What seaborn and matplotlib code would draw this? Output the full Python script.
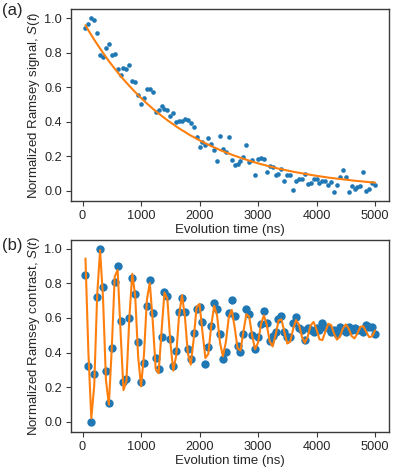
import numpy as np
import pandas as pd
import matplotlib
matplotlib.use("Agg")
import matplotlib.pyplot as plt
import seaborn as sns

# ---------------- data ----------------
time_ns = list(range(50, 5001, 50))

signal_a = [
    0.946, 0.965, 1.000, 0.990, 0.913, 0.790, 0.776, 0.830, 0.850, 0.790,
    0.795, 0.705, 0.670, 0.714, 0.705, 0.728, 0.637, 0.631, 0.558, 0.505,
    0.540, 0.592, 0.588, 0.573, 0.457, 0.467, 0.492, 0.473, 0.471, 0.434,
    0.449, 0.401, 0.405, 0.405, 0.415, 0.411, 0.390, 0.370, 0.310, 0.251,
    0.285, 0.264, 0.308, 0.271, 0.237, 0.174, 0.318, 0.239, 0.222, 0.310,
    0.180, 0.150, 0.156, 0.174, 0.193, 0.265, 0.168, 0.180, 0.093, 0.185,
    0.187, 0.183, 0.106, 0.143, 0.135, 0.089, 0.099, 0.128, 0.054, 0.091,
    0.089, 0.004, 0.058, 0.070, 0.070, 0.097, 0.039, 0.045, 0.070, 0.070,
    0.045, 0.058, 0.058, 0.031, 0.049, -0.008, 0.033, 0.081, 0.118, 0.081,
    -0.010, 0.025, 0.012, 0.019, 0.025, 0.106, -0.004, 0.010, 0.045, 0.035,
]

fit_a = [
    0.960, 0.931, 0.903, 0.876, 0.850, 0.825, 0.800, 0.776, 0.752, 0.730,
    0.708, 0.687, 0.666, 0.646, 0.627, 0.608, 0.590, 0.572, 0.555, 0.538,
    0.522, 0.506, 0.491, 0.476, 0.462, 0.448, 0.435, 0.422, 0.409, 0.397,
    0.385, 0.373, 0.362, 0.351, 0.341, 0.330, 0.320, 0.311, 0.301, 0.292,
    0.284, 0.275, 0.267, 0.259, 0.251, 0.244, 0.236, 0.229, 0.222, 0.216,
    0.209, 0.203, 0.197, 0.191, 0.185, 0.180, 0.174, 0.169, 0.164, 0.159,
    0.154, 0.150, 0.145, 0.141, 0.137, 0.132, 0.128, 0.125, 0.121, 0.117,
    0.114, 0.110, 0.107, 0.104, 0.101, 0.098, 0.095, 0.092, 0.089, 0.086,
    0.084, 0.081, 0.079, 0.076, 0.074, 0.072, 0.070, 0.068, 0.066, 0.064,
    0.062, 0.060, 0.058, 0.056, 0.055, 0.053, 0.051, 0.050, 0.048, 0.047,
]

contrast_b = [
    0.849, 0.321, 0.000, 0.273, 0.723, 1.000, 0.780, 0.291, 0.105, 0.428,
    0.807, 0.900, 0.581, 0.230, 0.245, 0.598, 0.834, 0.738, 0.461, 0.232,
    0.338, 0.669, 0.818, 0.630, 0.371, 0.302, 0.490, 0.748, 0.728, 0.478,
    0.321, 0.411, 0.633, 0.715, 0.635, 0.423, 0.360, 0.514, 0.652, 0.665,
    0.576, 0.335, 0.430, 0.556, 0.686, 0.652, 0.510, 0.360, 0.405, 0.627,
    0.707, 0.610, 0.436, 0.403, 0.509, 0.654, 0.622, 0.503, 0.423, 0.490,
    0.568, 0.640, 0.572, 0.464, 0.497, 0.516, 0.596, 0.610, 0.516, 0.490,
    0.490, 0.573, 0.604, 0.540, 0.530, 0.470, 0.540, 0.530, 0.520, 0.540,
    0.530, 0.570, 0.550, 0.540, 0.520, 0.530, 0.510, 0.550, 0.530, 0.520,
    0.550, 0.530, 0.540, 0.530, 0.530, 0.520, 0.560, 0.550, 0.550, 0.510,
]

fit_b = [
    0.945, 0.402, 0.019, 0.209, 0.731, 0.992, 0.719, 0.242, 0.098, 0.426,
    0.840, 0.878, 0.520, 0.182, 0.235, 0.599, 0.856, 0.729, 0.379, 0.204,
    0.387, 0.706, 0.803, 0.583, 0.306, 0.280, 0.520, 0.747, 0.711, 0.467,
    0.295, 0.380, 0.615, 0.732, 0.609, 0.395, 0.330, 0.478, 0.664, 0.681,
    0.520, 0.368, 0.392, 0.555, 0.671, 0.614, 0.457, 0.378, 0.460, 0.604,
    0.647, 0.548, 0.424, 0.412, 0.520, 0.622, 0.606, 0.496, 0.419, 0.457,
    0.563, 0.615, 0.560, 0.464, 0.435, 0.501, 0.585, 0.592, 0.520, 0.452,
    0.462, 0.536, 0.588, 0.562, 0.491, 0.456, 0.493, 0.558, 0.577, 0.533,
    0.477, 0.472, 0.520, 0.566, 0.559, 0.509, 0.475, 0.492, 0.539, 0.563,
    0.538, 0.495, 0.482, 0.512, 0.549, 0.552, 0.520, 0.489, 0.494, 0.527,
]

panel_labels = ["(a)", "(b)"]
ylabels = ["Normalized Ramsey signal, $S(t)$", "Normalized Ramsey contrast, $S(t)$"]
xlabel = "Evolution time (ns)"
xticks = [0, 1000, 2000, 3000, 4000, 5000]
yticks = [0.0, 0.2, 0.4, 0.6, 0.8, 1.0]

# ---------------- style ----------------
sns.set_style("ticks")
plt.rcParams["font.family"] = ["Liberation Sans", "DejaVu Sans"]
plt.rcParams["mathtext.fontset"] = "custom"
plt.rcParams["mathtext.rm"] = "Liberation Sans"
plt.rcParams["mathtext.it"] = "Liberation Sans:italic"
plt.rcParams["axes.edgecolor"] = "#3a3a3a"
plt.rcParams["axes.linewidth"] = 1.0
plt.rcParams["xtick.color"] = "#3a3a3a"
plt.rcParams["ytick.color"] = "#3a3a3a"
plt.rcParams["xtick.labelcolor"] = "#262626"
plt.rcParams["ytick.labelcolor"] = "#262626"
plt.rcParams["xtick.major.size"] = 3.5
plt.rcParams["ytick.major.size"] = 3.5

blue = "#1f77b4"
orange = "#ff7f0e"

df_a = pd.DataFrame({"t": time_ns, "S": signal_a, "fit": fit_a})
df_b = pd.DataFrame({"t": time_ns, "S": contrast_b, "fit": fit_b})

fig = plt.figure(figsize=(3.97, 4.74), dpi=100)
ax_a = fig.add_axes([0.1788, 0.5759, 0.8023, 0.405])
ax_b = fig.add_axes([0.1788, 0.0886, 0.8023, 0.406])

sns.scatterplot(data=df_a, x="t", y="S", ax=ax_a, s=11, color=blue,
                linewidth=0, zorder=2)
sns.lineplot(data=df_a, x="t", y="fit", ax=ax_a, color=orange, lw=1.5,
             zorder=3)

sns.scatterplot(data=df_b, x="t", y="S", ax=ax_b, s=36, color=blue,
                linewidth=0, zorder=2)
sns.lineplot(data=df_b, x="t", y="fit", ax=ax_b, color=orange, lw=1.5,
             zorder=3)

for ax, lab, yl in zip([ax_a, ax_b], panel_labels, ylabels):
    ax.set_xticks(xticks)
    ax.set_yticks(yticks)
    ax.set_xlim(-197.5, 5247.5)
    ax.set_ylim(-0.06, 1.054)
    ax.tick_params(labelsize=9.2, pad=3)
    ax.set_xlabel(xlabel, fontsize=9.5, labelpad=1.5)
    ax.set_ylabel(yl, fontsize=9.5, labelpad=1.5)
    for sp in ax.spines.values():
        sp.set_visible(True)

fig.text(0.005, 0.993, panel_labels[0], fontsize=12, va="top", ha="left")
fig.text(0.005, 0.497, panel_labels[1], fontsize=12, va="top", ha="left")

fig.savefig("out.png", dpi=100)
